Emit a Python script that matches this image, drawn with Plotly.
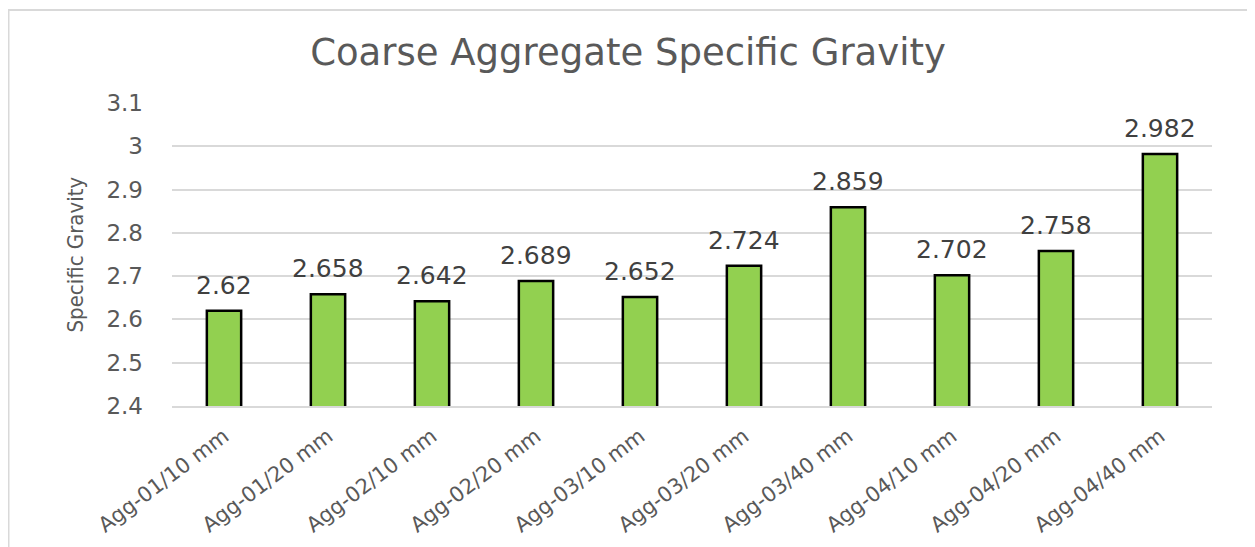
import plotly.graph_objects as go

categories = ["Agg-01/10 mm", "Agg-01/20 mm", "Agg-02/10 mm", "Agg-02/20 mm", "Agg-03/10 mm",
              "Agg-03/20 mm", "Agg-03/40 mm", "Agg-04/10 mm", "Agg-04/20 mm", "Agg-04/40 mm"]
values = [2.62, 2.658, 2.642, 2.689, 2.652, 2.724, 2.859, 2.702, 2.758, 2.982]
labels = ["2.62", "2.658", "2.642", "2.689", "2.652", "2.724", "2.859", "2.702", "2.758", "2.982"]
yticks = [2.4, 2.5, 2.6, 2.7, 2.8, 2.9, 3.0, 3.1]
yticktext = ["2.4", "2.5", "2.6", "2.7", "2.8", "2.9", "3", "3.1"]

W, H = 1247, 539
L, T, R, B = 164, 95, 43, 141
pw, ph = W - L - R, H - T - B

fig = go.Figure(go.Bar(
    x=categories, y=values,
    marker=dict(color="#92d050", line=dict(color="#000000", width=2.5)),
    cliponaxis=False,
))

for c, v, t in zip(categories, values, labels):
    fig.add_annotation(x=c, y=v, text=t, showarrow=False, xanchor="center",
                       yanchor="bottom", yshift=9,
                       font=dict(size=25, color="#404040", family="DejaVu Sans"))

fig.add_annotation(xref="paper", yref="paper", x=(67 - L) / pw, y=0.5,
                   text="Specific Gravity", textangle=-90, showarrow=False,
                   xanchor="center", yanchor="middle",
                   font=dict(size=22, color="#595959", family="DejaVu Sans Condensed"))

fig.update_layout(
    width=W, height=H,
    margin=dict(l=L, r=R, t=T, b=B, autoexpand=False),
    paper_bgcolor="white", plot_bgcolor="white",
    bargap=0.67,
    showlegend=False,
    title=dict(text="Coarse Aggregate Specific Gravity", x=620 / W, xanchor="center",
               y=1 - 44 / H, yanchor="middle",
               font=dict(size=37, color="#595959", family="DejaVu Sans")),
    font=dict(family="DejaVu Sans", color="#595959"),
)
fig.update_yaxes(
    range=[2.4, 3.1], tickvals=yticks, ticktext=yticktext,
    showgrid=True, gridcolor="#d9d9d9", gridwidth=1.5,
    zeroline=False, showline=False, ticks="", ticklabelstandoff=28,
    tickfont=dict(size=23, color="#595959"),
)
fig.update_xaxes(
    tickangle=-37, showline=True, linecolor="#d9d9d9", linewidth=1.5,
    ticks="", ticklabelstandoff=8, tickfont=dict(size=21, color="#595959"),
)
fig.add_shape(type="rect", xref="paper", yref="paper",
              x0=(0.5 - L) / pw, x1=(1240 - L) / pw,
              y0=(T + ph - 600) / ph, y1=(T + ph - 2) / ph,
              line=dict(color="#d9d9d9", width=2), layer="below")

fig.write_html("out.html")
